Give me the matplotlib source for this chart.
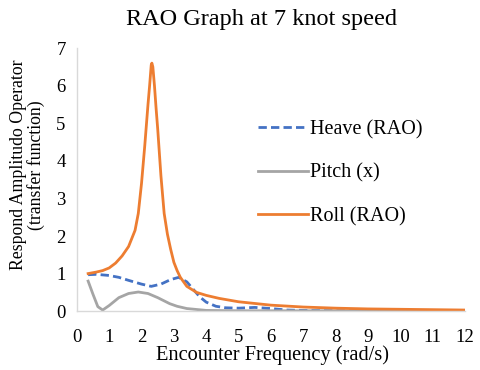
import matplotlib.pyplot as plt

# values
roll_x = [0.35, 0.6, 0.8, 1.0, 1.2, 1.4, 1.6, 1.8, 1.9, 2.0, 2.1, 2.2, 2.25, 2.3,
          2.32, 2.35, 2.4, 2.45, 2.5, 2.6, 2.7, 2.8, 2.9, 3.0, 3.1, 3.2, 3.4, 3.7,
          4.0, 4.4, 5, 6, 7, 8, 9, 10, 11, 12]
roll_y = [1.0, 1.04, 1.08, 1.15, 1.28, 1.47, 1.72, 2.15, 2.6, 3.4, 4.4, 5.5, 6.0, 6.55,
          6.6, 6.5, 6.0, 5.4, 4.85, 3.6, 2.6, 2.05, 1.65, 1.3, 1.08, 0.9, 0.66, 0.5,
          0.42, 0.34, 0.25, 0.16, 0.11, 0.08, 0.06, 0.05, 0.04, 0.03]

heave_x = [0.35, 0.6, 1.0, 1.3, 1.6, 2.0, 2.3, 2.6, 2.9, 3.15, 3.4, 3.6, 3.8, 4.0,
           4.3, 4.6, 5.0, 5.5, 6.0, 6.5, 7, 8, 12]
heave_y = [0.97, 0.98, 0.95, 0.9, 0.82, 0.72, 0.66, 0.72, 0.84, 0.9, 0.78, 0.58, 0.38, 0.24,
           0.13, 0.09, 0.08, 0.1, 0.07, 0.03, 0.02, 0.01, 0.01]

pitch_x = [0.35, 0.5, 0.65, 0.8, 1.0, 1.3, 1.6, 1.9, 2.2, 2.5, 2.87, 3.1, 3.4, 4.0, 5, 12]
pitch_y = [0.8, 0.45, 0.12, 0.03, 0.15, 0.36, 0.47, 0.51, 0.47, 0.36, 0.2, 0.13, 0.07, 0.02, 0.01, 0.01]

plt.rcParams['font.family'] = ['Liberation Serif', 'DejaVu Serif']

fig = plt.figure(figsize=(4.8, 3.7), dpi=100)
ax = fig.add_axes([0.160, 0.159, 0.809, 0.711])

ax.plot(heave_x, heave_y, color='#4472C4', lw=2, ls=(0, (3, 1.5)), label='Heave (RAO)')
ax.plot(pitch_x, pitch_y, color='#A5A5A5', lw=2, label='Pitch (x)')
ax.plot(roll_x, roll_y, color='#ED7D31', lw=2, label='Roll (RAO)')

ax.set_xlim(0, 12)
ax.set_ylim(0, 7)
ax.set_xticks(range(0, 13))
ax.set_yticks(range(0, 8))
ax.tick_params(length=0, labelsize=13.5)
ax.tick_params(axis='x', pad=13)
ax.tick_params(axis='y', pad=8)
for s in ['top', 'right']:
    ax.spines[s].set_visible(False)
for s in ['left', 'bottom']:
    ax.spines[s].set_color('#D9D9D9')
    ax.spines[s].set_linewidth(1)

ax.set_xlabel('Encounter Frequency (rad/s)', fontsize=14.7)
ax.xaxis.set_label_coords(0.503, -0.13)
ax.set_ylabel('Respond Amplitudo Operator\n(transfer function)', fontsize=12.8, linespacing=1.0)
ax.yaxis.set_label_coords(-0.082, 0.555)
fig.text(0.544, 1 - 25 / 370, 'RAO Graph at 7 knot speed', fontsize=17.5,
         ha='center', va='baseline')

ax.legend(loc='upper left', bbox_to_anchor=(0.42, 0.795), frameon=False, fontsize=14.5,
          handlelength=2.5, labelspacing=1.2, handletextpad=0.1)

fig.savefig('out.png', dpi=100)
